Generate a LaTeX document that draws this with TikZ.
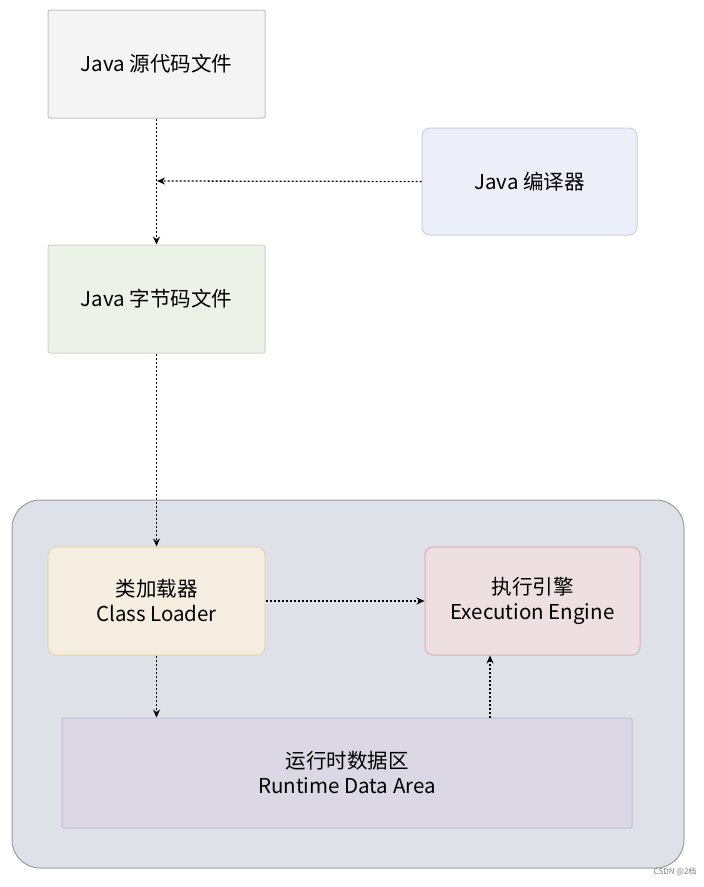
\documentclass[tikz,border=0pt]{standalone}
\usepackage{fontspec}
\setmainfont{Noto Sans CJK SC}
\usetikzlibrary{arrows.meta}
\definecolor{cont}{HTML}{DEE2E8}
\definecolor{contd}{HTML}{9A9EA4}
\definecolor{srcf}{HTML}{F4F4F4}
\definecolor{srcd}{HTML}{C4C4C4}
\definecolor{cmpf}{HTML}{ECEEF8}
\definecolor{cmpd}{HTML}{CACFE2}
\definecolor{bytf}{HTML}{EDF2E9}
\definecolor{bytd}{HTML}{CBD8C4}
\definecolor{ldrf}{HTML}{F5EEE0}
\definecolor{ldrd}{HTML}{E6D4A8}
\definecolor{engf}{HTML}{EEDFE2}
\definecolor{engd}{HTML}{D8AEB2}
\definecolor{rtf}{HTML}{DBD7E4}
\definecolor{rtd}{HTML}{C5BCD6}
\begin{document}
\begin{tikzpicture}[x=1pt,y=-1pt,
  box/.style={draw, line width=1pt, rounded corners=2pt, font=\fontsize{20.5}{25}\selectfont, align=center, inner sep=0pt},
  arr/.style={-{Stealth[length=8pt,width=7pt]}, line width=1.3pt, dash pattern=on 2pt off 2pt}]
\useasboundingbox (0,0) rectangle (704,887);
\fill[white] (0,0) rectangle (704,887);
\draw[line width=1pt, draw=contd, fill=cont, rounded corners=28pt] (12,500) rectangle (684,868);
\node[box, draw=srcd, fill=srcf, minimum width=217pt, minimum height=108pt] (src) at (156.5,64) {Java 源代码文件};
\node[box, draw=cmpd, fill=cmpf, minimum width=215pt, minimum height=107pt, rounded corners=8pt] (cmp) at (529.5,181.5) {Java 编译器};
\node[box, draw=bytd, fill=bytf, minimum width=217pt, minimum height=108pt] (byt) at (156.5,299) {Java 字节码文件};
\node[box, draw=ldrd, fill=ldrf, minimum width=217pt, minimum height=108pt, rounded corners=8pt] (ldr) at (156.5,601) {类加载器\\Class Loader};
\node[box, draw=engd, fill=engf, minimum width=215pt, minimum height=108pt, rounded corners=8pt] (eng) at (532.5,601) {执行引擎\\Execution Engine};
\node[box, draw=rtd, fill=rtf, minimum width=570pt, minimum height=110pt] (rt) at (347,773) {运行时数据区\\Runtime Data Area};
\coordinate (j) at (157,181);
\draw[arr] (src.south) -- (byt.north);
\draw[arr] (cmp.west) -- (j);
\draw[arr] (byt.south) -- (ldr.north);
\draw[arr] (ldr.east) -- (eng.west);
\draw[arr] (ldr.south) -- (rt.north -| ldr.south);
\draw[arr] (rt.north -| 490,0) -- (eng.south -| 490,0);
\node[font=\fontsize{8}{9}\selectfont, text=gray, anchor=east] (wm) at (700,872) {CSDN @2档};
\end{tikzpicture}
\end{document}
